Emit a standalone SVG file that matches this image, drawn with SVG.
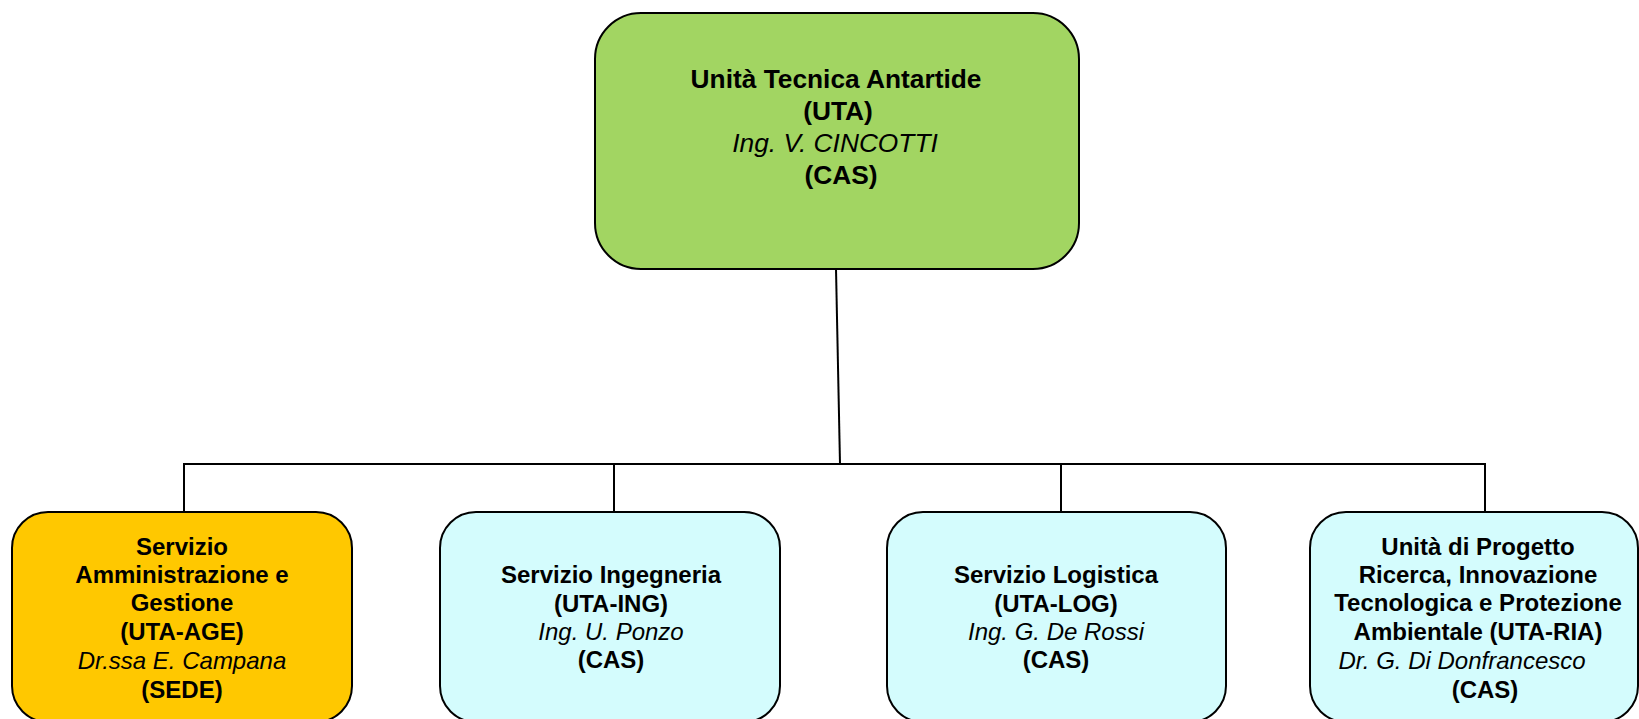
<svg xmlns="http://www.w3.org/2000/svg" width="1639" height="719" viewBox="0 0 1639 719">
<style>
.box{stroke:#000;stroke-width:2}
.t{font-family:"Liberation Sans",Arial,sans-serif;fill:#000;text-anchor:middle}
.b{font-weight:bold}
.i{font-style:italic}
.top{font-size:26.3px}
.sub{font-size:24px}
.conn{stroke:#000;stroke-width:2;fill:none}
</style>
<rect width="1639" height="719" fill="#fff"/>
<g id="connectors">
<line class="conn" x1="836" y1="269" x2="840" y2="464"/>
<polyline class="conn" points="184,512 184,464 1485,464 1485,512"/>
<line class="conn" x1="614" y1="464" x2="614" y2="512"/>
<line class="conn" x1="1061" y1="464" x2="1061" y2="512"/>
</g>
<g id="uta">
<rect class="box" x="595" y="13" width="484" height="256" rx="46" ry="46" fill="#A2D562"/>
<text class="t top b" x="836" y="88">Unità Tecnica Antartide</text>
<text class="t top b" x="838" y="120">(UTA)</text>
<text class="t top i" x="835" y="152">Ing. V. CINCOTTI</text>
<text class="t top b" x="841" y="184">(CAS)</text>
</g>
<g id="uta-age">
<rect class="box" x="12" y="512" width="340" height="210" rx="36" ry="36" fill="#FFC800"/>
<text class="t sub b" x="182" y="555">Servizio</text>
<text class="t sub b" x="182" y="583">Amministrazione e</text>
<text class="t sub b" x="182" y="611">Gestione</text>
<text class="t sub b" x="182" y="640">(UTA-AGE)</text>
<text class="t sub i" x="182" y="669">Dr.ssa E. Campana</text>
<text class="t sub b" x="182" y="698">(SEDE)</text>
</g>
<g id="uta-ing">
<rect class="box" x="440" y="512" width="340" height="210" rx="36" ry="36" fill="#D4FCFD"/>
<text class="t sub b" x="611" y="583">Servizio Ingegneria</text>
<text class="t sub b" x="611" y="612">(UTA-ING)</text>
<text class="t sub i" x="611" y="640">Ing. U. Ponzo</text>
<text class="t sub b" x="611" y="668">(CAS)</text>
</g>
<g id="uta-log">
<rect class="box" x="887" y="512" width="339" height="210" rx="36" ry="36" fill="#D4FCFD"/>
<text class="t sub b" x="1056" y="583">Servizio Logistica</text>
<text class="t sub b" x="1056" y="612">(UTA-LOG)</text>
<text class="t sub i" x="1056" y="640">Ing. G. De Rossi</text>
<text class="t sub b" x="1056" y="668">(CAS)</text>
</g>
<g id="uta-ria">
<rect class="box" x="1310" y="512" width="328" height="210" rx="36" ry="36" fill="#D4FCFD"/>
<text class="t sub b" x="1478" y="555">Unità di Progetto</text>
<text class="t sub b" x="1478" y="583">Ricerca, Innovazione</text>
<text class="t sub b" x="1478" y="611">Tecnologica e Protezione</text>
<text class="t sub b" x="1478" y="640">Ambientale (UTA-RIA)</text>
<text class="t sub i" x="1462" y="669">Dr. G. Di Donfrancesco</text>
<text class="t sub b" x="1485" y="698">(CAS)</text>
</g>
</svg>
